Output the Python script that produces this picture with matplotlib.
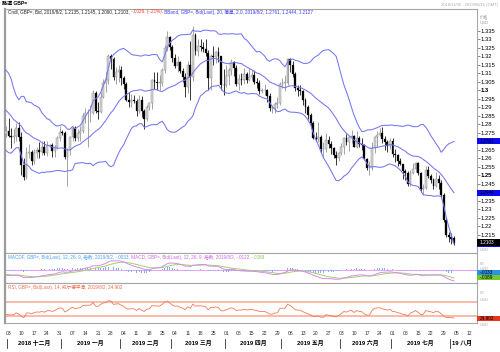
"""
GBP= daily candles with Bollinger band, MACD and RSI panes.
"""

import matplotlib
matplotlib.use("Agg")

import matplotlib.pyplot as plt
import matplotlib.transforms as mtransforms
from matplotlib.patches import Rectangle
import numpy as np
import pandas as pd

plt.rcParams["font.family"] = ["Liberation Sans", "Noto Sans CJK SC", "DejaVu Sans"]


###############################################################################
# Data
###############################################################################

first_day = "2018-11-30"
last_axis_day = "2019-08-15"

# closes before the window, only used to seed the indicators (2018/11/01 - 11/29)
warmup_closes = [
    1.3005, 1.2970,
    1.3040, 1.3085, 1.3135, 1.3045, 1.2970,
    1.2845, 1.2970, 1.2970, 1.2775, 1.2830,
    1.2845, 1.2780, 1.2795, 1.2885, 1.2815,
    1.2820, 1.2735, 1.2795, 1.2775,
]

opens = [
    1.2745,
    1.2760, 1.2730, 1.2725, 1.2730, 1.2780,
    1.2725, 1.2560, 1.2490, 1.2635, 1.2640,
    1.2585, 1.2630, 1.2650, 1.2640, 1.2665,
    1.2630, 1.2675, 1.2680, 1.2645, 1.2670,
    1.2720, 1.2755, 1.2750, 1.2610, 1.2650,
    1.2725, 1.2780, 1.2720, 1.2750, 1.2760,
    1.2850, 1.2865, 1.2865, 1.2870, 1.2985,
    1.2880, 1.2875, 1.2960, 1.3045, 1.3060,
    1.3200, 1.3185, 1.3080, 1.3110, 1.3120,
    1.3075, 1.3040, 1.2945, 1.2935, 1.2945,
    1.2940, 1.2880, 1.2945, 1.2880, 1.2830,
    1.2905, 1.2925, 1.3060, 1.3050, 1.3045,
    1.3045, 1.3120, 1.3250, 1.3315, 1.3255,
    1.3190, 1.3145, 1.3165, 1.3115, 1.3080,
    1.3020, 1.3150, 1.3080, 1.3325, 1.3230,
    1.3260, 1.3255, 1.3245, 1.3220, 1.3075,
    1.3205, 1.3195, 1.3225, 1.3200, 1.3035,
    1.3030, 1.3085, 1.3120, 1.3170, 1.3135,
    1.3040, 1.3065, 1.3060, 1.3095, 1.3060,
    1.3080, 1.3090, 1.3050, 1.3045, 1.2995,
    1.3000, 1.3000, 1.2965, 1.2895, 1.2895,
    1.2920, 1.2925, 1.3040, 1.3045, 1.3045,
    1.3185, 1.3150, 1.3095, 1.3015, 1.3005,
    1.2995, 1.2945, 1.2900, 1.2855, 1.2810,
    1.2720, 1.2715, 1.2725, 1.2655, 1.2655,
    1.2710, 1.2685, 1.2660, 1.2620, 1.2605,
    1.2630, 1.2670, 1.2720, 1.2695, 1.2725,
    1.2735, 1.2670, 1.2720, 1.2685, 1.2680,
    1.2595, 1.2545, 1.2545, 1.2660, 1.2725,
    1.2740, 1.2750, 1.2715, 1.2695, 1.2675,
    1.2700, 1.2625, 1.2620, 1.2585, 1.2565,
    1.2525, 1.2515, 1.2450, 1.2515, 1.2540,
    1.2575, 1.2515, 1.2420, 1.2425, 1.2530,
    1.2495, 1.2475, 1.2440, 1.2480, 1.2455,
    1.2385, 1.2238, 1.2150, 1.2140, 1.2135,
]

highs = [
    1.2790,
    1.2840, 1.2780, 1.2775, 1.2810, 1.2815,
    1.2755, 1.2605, 1.2670, 1.2685, 1.2650,
    1.2655, 1.2670, 1.2695, 1.2700, 1.2700,
    1.2700, 1.2685, 1.2690, 1.2680, 1.2730,
    1.2790, 1.2770, 1.2760, 1.2660, 1.2735,
    1.2790, 1.2790, 1.2775, 1.2790, 1.2865,
    1.2895, 1.2890, 1.2915, 1.3000, 1.2995,
    1.2935, 1.2990, 1.3065, 1.3110, 1.3215,
    1.3215, 1.3195, 1.3140, 1.3150, 1.3145,
    1.3085, 1.3050, 1.2990, 1.2980, 1.2975,
    1.2950, 1.2975, 1.2965, 1.2890, 1.2915,
    1.2935, 1.3070, 1.3110, 1.3110, 1.3090,
    1.3130, 1.3265, 1.3350, 1.3320, 1.3270,
    1.3215, 1.3200, 1.3175, 1.3135, 1.3105,
    1.3175, 1.3290, 1.3380, 1.3340, 1.3300,
    1.3305, 1.3285, 1.3305, 1.3240, 1.3215,
    1.3260, 1.3235, 1.3255, 1.3205, 1.3125,
    1.3150, 1.3135, 1.3185, 1.3175, 1.3150,
    1.3095, 1.3100, 1.3130, 1.3110, 1.3130,
    1.3120, 1.3120, 1.3075, 1.3060, 1.3015,
    1.3040, 1.3010, 1.2985, 1.2915, 1.2935,
    1.2960, 1.3050, 1.3075, 1.3090, 1.3190,
    1.3190, 1.3175, 1.3110, 1.3030, 1.3035,
    1.3000, 1.2955, 1.2915, 1.2865, 1.2820,
    1.2755, 1.2815, 1.2740, 1.2695, 1.2750,
    1.2730, 1.2700, 1.2670, 1.2645, 1.2640,
    1.2690, 1.2725, 1.2745, 1.2735, 1.2765,
    1.2740, 1.2760, 1.2735, 1.2720, 1.2685,
    1.2605, 1.2585, 1.2695, 1.2730, 1.2760,
    1.2780, 1.2785, 1.2730, 1.2710, 1.2720,
    1.2720, 1.2655, 1.2625, 1.2600, 1.2570,
    1.2540, 1.2525, 1.2530, 1.2575, 1.2580,
    1.2580, 1.2520, 1.2450, 1.2555, 1.2555,
    1.2510, 1.2485, 1.2520, 1.2505, 1.2475,
    1.2395, 1.2256, 1.2167, 1.2160, 1.2145,
]

lows = [
    1.2725,
    1.2725, 1.2660, 1.2690, 1.2700, 1.2705,
    1.2505, 1.2475, 1.2480, 1.2600, 1.2560,
    1.2565, 1.2600, 1.2605, 1.2620, 1.2620,
    1.2615, 1.2665, 1.2610, 1.2610, 1.2655,
    1.2700, 1.2740, 1.2595, 1.2440, 1.2620,
    1.2705, 1.2700, 1.2700, 1.2700, 1.2750,
    1.2810, 1.2670, 1.2815, 1.2860, 1.2865,
    1.2835, 1.2865, 1.2955, 1.2990, 1.3040,
    1.3125, 1.3060, 1.3040, 1.3050, 1.3035,
    1.3010, 1.2940, 1.2905, 1.2905, 1.2925,
    1.2850, 1.2870, 1.2845, 1.2775, 1.2820,
    1.2885, 1.2890, 1.3010, 1.3000, 1.3005,
    1.3025, 1.3105, 1.3235, 1.3240, 1.3165,
    1.3135, 1.3110, 1.3105, 1.3050, 1.2960,
    1.2985, 1.2945, 1.3055, 1.3210, 1.3200,
    1.3230, 1.3225, 1.3200, 1.3005, 1.3000,
    1.3150, 1.3160, 1.3170, 1.3005, 1.2975,
    1.3020, 1.3030, 1.3090, 1.3085, 1.3025,
    1.3005, 1.3030, 1.3040, 1.3045, 1.3055,
    1.3060, 1.3040, 1.3015, 1.2980, 1.2985,
    1.2975, 1.2935, 1.2880, 1.2865, 1.2865,
    1.2895, 1.2915, 1.3015, 1.2995, 1.3035,
    1.3110, 1.3080, 1.2995, 1.2965, 1.2975,
    1.2915, 1.2865, 1.2835, 1.2780, 1.2715,
    1.2700, 1.2695, 1.2630, 1.2605, 1.2640,
    1.2660, 1.2625, 1.2605, 1.2560, 1.2585,
    1.2620, 1.2625, 1.2680, 1.2645, 1.2690,
    1.2665, 1.2660, 1.2670, 1.2650, 1.2590,
    1.2535, 1.2505, 1.2530, 1.2635, 1.2665,
    1.2730, 1.2690, 1.2650, 1.2640, 1.2655,
    1.2610, 1.2580, 1.2555, 1.2560, 1.2480,
    1.2475, 1.2440, 1.2440, 1.2510, 1.2520,
    1.2500, 1.2405, 1.2385, 1.2420, 1.2485,
    1.2455, 1.2420, 1.2435, 1.2420, 1.2375,
    1.2225, 1.2138, 1.2109, 1.2095, 1.2090,
]

closes = [
    1.2760,
    1.2730, 1.2725, 1.2730, 1.2780, 1.2725,
    1.2560, 1.2490, 1.2635, 1.2640, 1.2585,
    1.2630, 1.2650, 1.2640, 1.2665, 1.2630,
    1.2675, 1.2680, 1.2645, 1.2670, 1.2720,
    1.2755, 1.2750, 1.2610, 1.2650, 1.2725,
    1.2780, 1.2720, 1.2750, 1.2760, 1.2850,
    1.2865, 1.2865, 1.2870, 1.2985, 1.2880,
    1.2875, 1.2960, 1.3045, 1.3060, 1.3200,
    1.3185, 1.3080, 1.3110, 1.3120, 1.3075,
    1.3040, 1.2945, 1.2935, 1.2945, 1.2940,
    1.2880, 1.2945, 1.2880, 1.2830, 1.2905,
    1.2925, 1.3060, 1.3050, 1.3045, 1.3045,
    1.3120, 1.3250, 1.3315, 1.3255, 1.3190,
    1.3145, 1.3165, 1.3115, 1.3080, 1.3020,
    1.3150, 1.3080, 1.3325, 1.3230, 1.3260,
    1.3255, 1.3245, 1.3220, 1.3075, 1.3205,
    1.3195, 1.3225, 1.3200, 1.3035, 1.3030,
    1.3085, 1.3120, 1.3170, 1.3135, 1.3040,
    1.3065, 1.3060, 1.3095, 1.3060, 1.3080,
    1.3090, 1.3050, 1.3045, 1.2995, 1.3000,
    1.3000, 1.2965, 1.2895, 1.2895, 1.2920,
    1.2925, 1.3040, 1.3045, 1.3045, 1.3185,
    1.3150, 1.3095, 1.3015, 1.3005, 1.2995,
    1.2945, 1.2900, 1.2855, 1.2810, 1.2720,
    1.2715, 1.2725, 1.2655, 1.2655, 1.2710,
    1.2685, 1.2660, 1.2620, 1.2605, 1.2630,
    1.2670, 1.2720, 1.2695, 1.2725, 1.2735,
    1.2670, 1.2720, 1.2685, 1.2680, 1.2595,
    1.2545, 1.2545, 1.2660, 1.2725, 1.2740,
    1.2750, 1.2715, 1.2695, 1.2675, 1.2700,
    1.2625, 1.2620, 1.2585, 1.2565, 1.2525,
    1.2515, 1.2450, 1.2515, 1.2540, 1.2575,
    1.2515, 1.2420, 1.2425, 1.2530, 1.2495,
    1.2475, 1.2440, 1.2480, 1.2455, 1.2385,
    1.2238, 1.2150, 1.2140, 1.2129, 1.2103,
]

price_ticks = [
    1.335, 1.33, 1.325, 1.32, 1.315, 1.31, 1.305, 1.3, 1.295, 1.29,
    1.285, 1.28, 1.275, 1.27, 1.265, 1.26, 1.255, 1.25, 1.245, 1.24,
    1.235, 1.23, 1.225, 1.22, 1.215,
]
price_labels = [
    "1.335", "1.33", "1.325", "1.32", "1.315", "1.31", "1.305", "1.3", "1.295", "1.29",
    "1.285", "1.28", "1.275", "1.27", "1.265", "1.26", "1.255", "1.25", "1.245", "1.24",
    "1.235", "1.23", "1.225", "1.22", "1.215",
]
bold_labels = ["1.3", "1.25"]

month_names = [
    "2018 十二月", "2019 一月", "2019 二月", "2019 三月", "2019 四月",
    "2019 五月", "2019 六月", "2019 七月", "19 八月",
]

title_text = "路透 GBP="
range_text = "2018/11/30 - 2019/08/15 (GMT)"
cndl_text = "Cndl, GBP=, Bid, 2019/8/2, 1.2135, 1.2145, 1.2090, 1.2103,"
change_text = " -.0026, (-.21%),"
bband_text = " BBand, GBP=, Bid(Last), 20, 简单, 2.0, 2019/8/2, 1.2761, 1.2444, 1.2127"
macdf_text = "MACDF, GBP=, Bid(Last), 12, 26, 9, 指数, 2019/8/2, -.0033,"
macd_text = " MACD, GBP=, Bid(Last), 12, 26, 9, 指数, 2019/8/2, -.0122,"
signal_text = " -.0089"
rsi_text = "RSI, GBP=, Bid(Last), 14, 威尔德平滑, 2019/8/2, 24.902"


###############################################################################
# Layout (pixels of the 500 x 352 picture)
###############################################################################

W, H = 500, 352
PLOT_L, PLOT_R = 5, 477
MAIN_T, MAIN_B = 9, 253
MACD_B = 283
RSI_B = 323

UP_FACE = "#d6d6d6"
UP_EDGE = "#8c8c8c"
DOWN = "#000000"
BAND = "#7575f2"
FRAME = "#a6a6a6"


def fig_rect(left, top, right, bottom):
    return [left / W, 1 - bottom / H, (right - left) / W, (bottom - top) / H]


def fig_text(fig, x, y, text, **kw):
    return fig.text(x / W, 1 - y / H, text, **kw)


def colored_line(fig, x, y, parts, size):
    """
    Write text pieces of different colours one after another.
    """
    renderer = fig.canvas.get_renderer()
    for text, color in parts:
        t = fig_text(fig, x, y, text, color=color, fontsize=size,
                     ha="left", va="center")
        x += t.get_window_extent(renderer).width


def style_axes(ax):
    for side in ["top", "bottom", "right"]:
        ax.spines[side].set_color(FRAME)
        ax.spines[side].set_linewidth(0.8)
    ax.spines["left"].set_color("#9c9c9c")
    ax.spines["left"].set_linewidth(1.6)
    ax.tick_params(axis="both", left=False, bottom=False,
                   labelleft=False, labelbottom=False)


def px_per_unit(ax):
    lo, hi = ax.get_ylim()
    return ax.get_position().height * H / (hi - lo)


def value_box(ax, value, text, face, text_color, height_px):
    """
    Coloured value tag sitting right of the pane.
    """
    trans = mtransforms.blended_transform_factory(ax.transAxes, ax.transData)
    h = height_px / px_per_unit(ax)
    ax.add_patch(Rectangle((1.0, value - h / 2), 23 / (PLOT_R - PLOT_L), h,
                           transform=trans, facecolor=face, edgecolor="none",
                           clip_on=False, zorder=5))
    ax.text(1.0 + 2.5 / (PLOT_R - PLOT_L), value, text, transform=trans,
            color=text_color, fontsize=3.4, ha="left", va="center",
            clip_on=False, zorder=6)


###############################################################################
# Indicators
###############################################################################

def bollinger(series, n=20, k=2.0):
    mid = series.rolling(n).mean()
    sd = series.rolling(n).std(ddof=0)
    return mid + k * sd, mid, mid - k * sd


def macd(series, fast=12, slow=26, sig=9):
    line = (series.ewm(span=fast, adjust=False).mean()
            - series.ewm(span=slow, adjust=False).mean())
    signal = line.ewm(span=sig, adjust=False).mean()
    return line, signal, line - signal


def rsi(series, n=14):
    diff = series.diff()
    gain = diff.clip(lower=0).ewm(alpha=1 / n, adjust=False).mean()
    loss = (-diff.clip(upper=0)).ewm(alpha=1 / n, adjust=False).mean()
    return 100 - 100 / (1 + gain / loss)


###############################################################################
# Chart
###############################################################################

def build_chart():

    o = np.array(opens)
    h = np.array(highs)
    l = np.array(lows)
    c = np.array(closes)
    n = len(c)
    x = np.arange(n)

    full = pd.Series(warmup_closes + closes)
    upper, mid, lower = [s.to_numpy()[-n:] for s in bollinger(full)]
    macd_line, macd_sig, macd_hist = [s.to_numpy()[-n:] for s in macd(full)]
    rsi_line = rsi(full).to_numpy()[-n:]

    days = pd.bdate_range(first_day, last_axis_day)
    x_min, x_max = -0.39, len(days) - 1.0

    fig = plt.figure(figsize=(W / 100, H / 100), dpi=100)

    ax = fig.add_axes(fig_rect(PLOT_L, MAIN_T, PLOT_R, MAIN_B))
    ax_macd = fig.add_axes(fig_rect(PLOT_L, MAIN_B, PLOT_R, MACD_B))
    ax_rsi = fig.add_axes(fig_rect(PLOT_L, MACD_B, PLOT_R, RSI_B))

    for a in (ax, ax_macd, ax_rsi):
        style_axes(a)
        a.set_xlim(x_min, x_max)

    # ---- price pane -------------------------------------------------------
    ax.set_ylim(1.20441, 1.34794)

    up = c >= o
    down = ~up
    body = np.maximum(np.abs(c - o), 0.00025)
    base = np.minimum(o, c)

    ax.vlines(x[up], l[up], h[up], color=UP_EDGE, lw=0.55, zorder=2)
    ax.vlines(x[down], l[down], h[down], color=DOWN, lw=0.55, zorder=2)
    ax.bar(x[up], body[up], bottom=base[up], width=0.72,
           color=UP_FACE, edgecolor=UP_EDGE, linewidth=0.35, zorder=3)
    ax.bar(x[down], body[down], bottom=base[down], width=0.72,
           color=DOWN, edgecolor=DOWN, linewidth=0.2, zorder=3)

    for band in (upper, mid, lower):
        ax.plot(x, band, color=BAND, lw=0.75, zorder=4)

    # tags at the right edge; tick labels under a tag stay hidden
    tags = [
        (upper[-1], "1.2761", "#0c0cf0", "#000000", 6),
        (mid[-1], "1.2444", "#0c0cf0", "#000000", 6),
        (lower[-1], "1.2127", "#0c0cf0", "#000000", 6),
        (c[-1], "1.2103", "#000000", "#ffffff", 7),
    ]
    scale = px_per_unit(ax)
    shown = [
        lab if all(abs(t - tag[0]) * scale > 5.5 for tag in tags) else ""
        for t, lab in zip(price_ticks, price_labels)
    ]

    ax.yaxis.tick_right()
    ax.set_yticks(price_ticks, labels=shown)
    ax.tick_params(axis="y", right=True, labelright=True, length=2,
                   width=0.5, pad=0.8, labelsize=4.2, color="#555555")
    for lab in ax.get_yticklabels():
        if lab.get_text() in bold_labels:
            lab.set_fontweight("bold")

    for value, text, face, tcolor, hpx in tags:
        value_box(ax, value, text, face, tcolor, hpx)

    # ---- MACD pane --------------------------------------------------------
    ax_macd.set_ylim(-0.0148, 0.0193)
    ax_macd.axhline(0, color="#e7a2f2", lw=0.7, zorder=1)
    ax_macd.bar(x, macd_hist, width=0.35, color="#7fb0ff", zorder=2)
    ax_macd.plot(x, macd_sig, color="#9fd36b", lw=0.7, zorder=3)
    ax_macd.plot(x, macd_line, color="#d98aea", lw=0.7, zorder=4)

    value_box(ax_macd, macd_hist[-1], "-.0033", "#2a93e6", "#000000", 5)
    value_box(ax_macd, macd_sig[-1], "-.0089", "#78c82a", "#000000", 5)

    # ---- RSI pane ---------------------------------------------------------
    ax_rsi.set_ylim(9.1, 123.4)
    ax_rsi.axhline(70, color="#f9b6a2", lw=1.3, zorder=1)
    ax_rsi.axhline(30, color="#f9b6a2", lw=1.3, zorder=1)
    ax_rsi.plot(x, rsi_line, color="#f07a55", lw=0.6, zorder=3)

    value_box(ax_rsi, rsi_line[-1], "24.902", "#e8371f", "#000000", 5)

    # ---- date axis --------------------------------------------------------
    mondays = [i for i, d in enumerate(days) if d.weekday() == 0]
    ax_rsi.set_xticks(mondays, labels=[f"{days[i].day:02d}" for i in mondays])
    ax_rsi.tick_params(axis="x", bottom=False, labelbottom=True, length=0,
                       pad=5.5, labelsize=3.6, labelcolor="#333333")

    starts = [i for i in range(1, len(days)) if days[i].month != days[i - 1].month]
    edges = [s - 0.5 for s in starts] + [x_max]
    trans = mtransforms.blended_transform_factory(ax_rsi.transData, ax_rsi.transAxes)
    for k, name in enumerate(month_names):
        ax_rsi.plot([edges[k], edges[k]], [-0.39, -0.62], transform=trans,
                    color="#333333", lw=0.6, clip_on=False)
        if k == len(month_names) - 1:
            ax_rsi.text(edges[k] + 0.6, -0.5, name, transform=trans,
                        ha="left", va="center", fontsize=4.2,
                        fontweight="bold", clip_on=False)
        else:
            ax_rsi.text((edges[k] + edges[k + 1]) / 2, -0.5, name,
                        transform=trans, ha="center", va="center",
                        fontsize=4.2, fontweight="bold", clip_on=False)

    # ---- texts ------------------------------------------------------------
    fig_text(fig, 2, 3.5, title_text, fontsize=3.6, fontweight="bold",
             ha="left", va="center")
    fig_text(fig, 498, 5, range_text, fontsize=3.0, color="#aaaaaa",
             ha="right", va="center")
    fig_text(fig, 479.5, 17, "价格", fontsize=3.0, color="#999999",
             ha="left", va="center")
    fig_text(fig, 479.5, 23.5, "USD", fontsize=3.0, color="#999999",
             ha="left", va="center")
    fig_text(fig, 479.5, 250, "USD", fontsize=3.0, color="#aaaaaa",
             ha="left", va="center")
    for yy, tt in [(264, "00"), (269, "USD"), (292.5, "00"), (300, "USD"),
                   (325, "USD")]:
        fig_text(fig, 479.5, yy, tt, fontsize=3.0, color="#aaaaaa",
                 ha="left", va="center")

    colored_line(fig, 8, 12, [(cndl_text, "#222222"), (change_text, "#f03a2a"),
                              (bband_text, "#3a3af0")], 3.3)
    colored_line(fig, 8, 257.5, [(macdf_text, "#4aa0f0"), (macd_text, "#c868e0"),
                                 (signal_text, "#88c850")], 3.3)
    colored_line(fig, 8, 287, [(rsi_text, "#f06a4a")], 3.3)

    return fig


###############################################################################
# Save
###############################################################################

fig = build_chart()
fig.savefig("out.png", dpi=100)
plt.close(fig)
